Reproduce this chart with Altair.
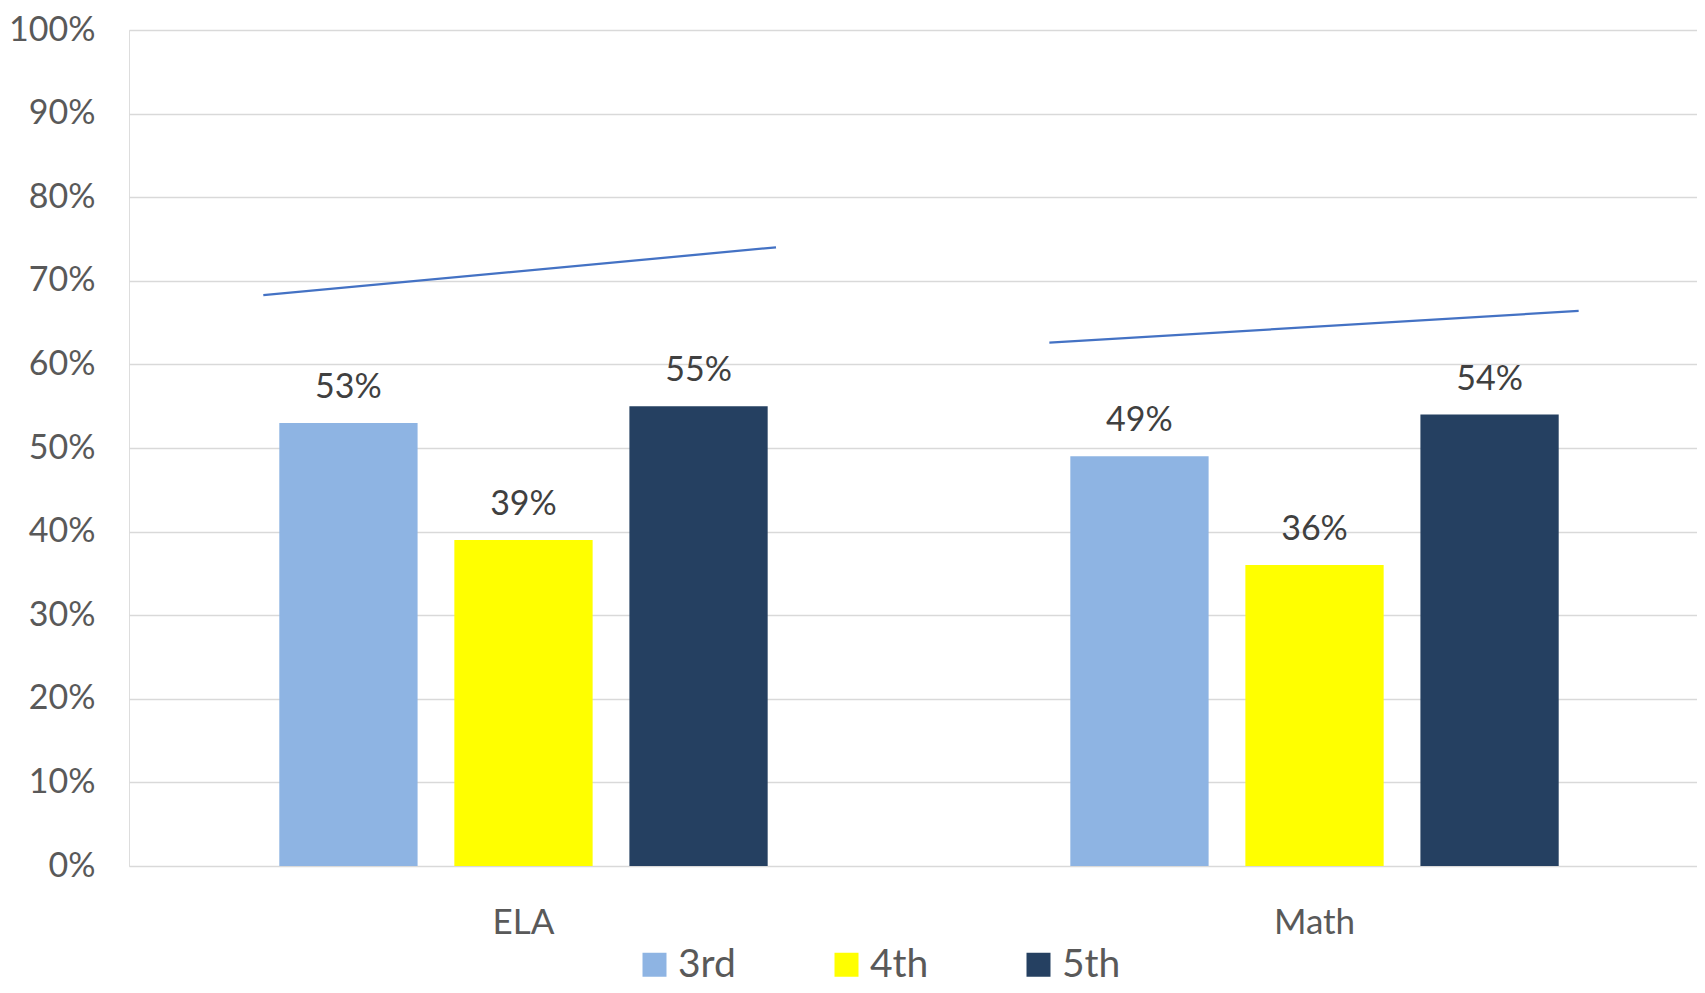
import altair as alt
import pandas as pd

subjects = ["ELA", "ELA", "ELA", "Math", "Math", "Math"]
grades = ["3rd", "4th", "5th", "3rd", "4th", "5th"]
values = [0.53, 0.39, 0.55, 0.49, 0.36, 0.54]

grade_order = ["3rd", "4th", "5th"]
grade_colors = ["#8EB4E3", "#FFFF00", "#254061"]

# trend lines drawn above each group (position along the 2-category axis, 0..2)
trend_group = ["ELA", "ELA", "Math", "Math"]
trend_pos = [0.170, 0.819, 1.165, 1.835]
trend_values = [0.683, 0.740, 0.626, 0.664]

bars_df = pd.DataFrame({"subject": subjects, "grade": grades, "value": values})
trend_df = pd.DataFrame({"group": trend_group, "pos": trend_pos, "value": trend_values})

FONT = "Lato"
TXT = "#595959"
XRANGE = [0, 1580]

x_enc = alt.X(
    "subject:N",
    sort=["ELA", "Math"],
    scale=alt.Scale(paddingInner=0.3826, paddingOuter=0.19, range=XRANGE),
    axis=alt.Axis(
        title=None, labelAngle=0, ticks=False, domain=False, grid=False,
        labelFont=FONT, labelFontSize=35, labelColor=TXT, labelPadding=39,
    ),
)
xoff_enc = alt.XOffset(
    "grade:N", sort=grade_order, scale=alt.Scale(paddingInner=0.21, paddingOuter=0)
)
y_enc = alt.Y(
    "value:Q",
    scale=alt.Scale(domain=[0, 1], nice=False),
    axis=alt.Axis(
        title=None, format=".0%", values=[i / 10 for i in range(11)],
        ticks=False, domain=False, grid=True, gridColor="#D9D9D9", gridWidth=1.5,
        labelFont=FONT, labelFontSize=34, labelColor=TXT, labelPadding=34,
    ),
)

bars = alt.Chart(bars_df).mark_bar().encode(
    x=x_enc,
    xOffset=xoff_enc,
    y=y_enc,
    color=alt.Color(
        "grade:N",
        sort=grade_order,
        scale=alt.Scale(domain=grade_order, range=grade_colors),
        legend=alt.Legend(
            title=None, orient="none", direction="horizontal",
            legendX=506, legendY=915, padding=0,
            symbolType="square", symbolSize=576, symbolStrokeWidth=0,
            symbolOpacity=1,
            labelFont=FONT, labelFontSize=39, labelColor=TXT, labelOffset=4,
            gridAlign="all", columnPadding=90,
        ),
    ),
)

labels = alt.Chart(bars_df).mark_text(
    baseline="bottom", dy=-18, font=FONT, fontSize=34, color="#404040"
).encode(
    x=alt.X("subject:N", sort=["ELA", "Math"]),
    xOffset=alt.XOffset("grade:N", sort=grade_order),
    y="value:Q",
    text=alt.Text("value:Q", format=".0%"),
)

trend = alt.Chart(trend_df).mark_line(color="#4472C4", strokeWidth=2.25).encode(
    x=alt.X(
        "pos:Q",
        scale=alt.Scale(domain=[0, 2], nice=False, zero=False, range=XRANGE),
        axis=None,
    ),
    y=alt.Y("value:Q", scale=alt.Scale(domain=[0, 1], nice=False)),
    detail="group:N",
)

chart = (
    alt.layer(alt.layer(bars, labels), trend)
    .resolve_scale(x="independent")
    .properties(
        width=1568,
        height=836,
        autosize=alt.AutoSizeParams(type="none"),
        padding={"left": 121, "top": 22, "right": 0, "bottom": 119},
    )
    .configure_view(stroke=None)
    .configure(font=FONT)
)

chart.save("out.html", embed_options={"renderer": "svg", "actions": False})
